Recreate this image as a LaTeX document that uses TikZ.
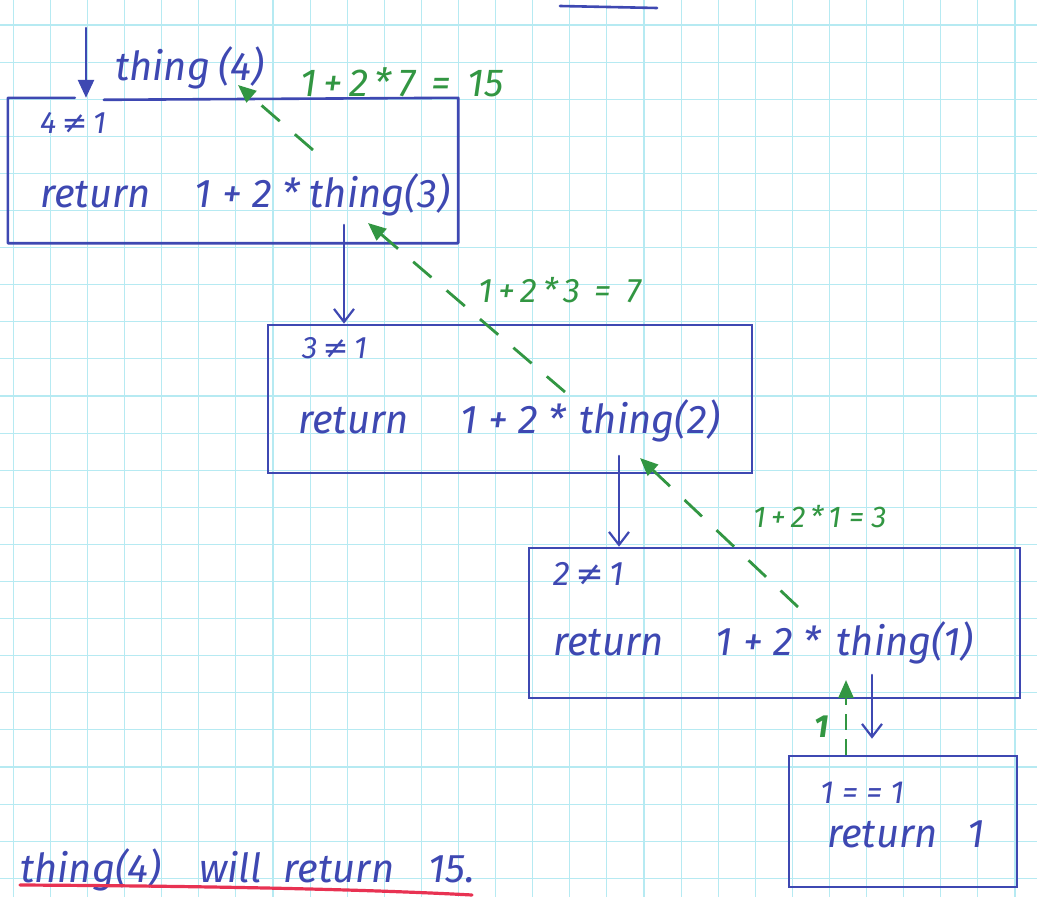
\documentclass[tikz,border=0pt]{standalone}
\usepackage{fontspec}
\setmainfont{Fira Sans}
\newfontfamily\symf{DejaVu Sans}
\usetikzlibrary{arrows.meta,calc}
\definecolor{ink}{RGB}{62,72,178}
\definecolor{gink}{RGB}{50,150,66}
\definecolor{rink}{RGB}{232,50,82}
\definecolor{gridc}{RGB}{182,234,242}
\newcommand{\neqsym}{{\symf ≠}}
\newcommand{\fs}[1]{\fontsize{#1}{#1}\selectfont}
\begin{document}
\begin{tikzpicture}[x=1pt,y=-1pt,
  inkline/.style={draw=ink,line width=2.6pt,line cap=round,line join=round},
  boxn/.style={draw=ink,line width=2.6pt,rectangle,inner sep=0pt},
  txt/.style={text=ink,font=\itshape\fs{40},anchor=base west,inner sep=0pt},
  gtxt/.style={text=gink,font=\itshape\fs{32},anchor=base west,inner sep=0pt},
  downar/.style={inkline,-{Straight Barb[length=13pt,width=20pt,line width=2.2pt]}},
  topar/.style={inkline,-{Triangle[length=18pt,width=16pt]}},
  gret/.style={draw=gink,line width=2.8pt,dash pattern=on 24pt off 20pt,-{Triangle[length=18pt,width=15pt]}},
]
\fill[white] (0,0) rectangle (1037,897);
\useasboundingbox (0,0) rectangle (1037,897);
% graph paper
\foreach \i in {0,...,27} \draw[gridc,line width=1.1pt] (13.3+37.1*\i,0) -- ++(0,897);
\foreach \j in {0,...,23} \draw[gridc,line width=1.1pt] (0,25+37.1*\j) -- ++(1037,0);
% fragment at top
\draw[inkline] (560,6) -- (657,8);
% boxes
\node[rectangle,inner sep=0pt,minimum width=450pt,minimum height=145pt] (b1) at (233,170.5) {};
\draw[inkline] ($(b1.north west)+(67,0)$) -- (b1.north west) -- (b1.south west) -- (b1.south east) -- (b1.north east) -- ($(b1.north west)+(96,2)$);
\node[boxn,minimum width=484pt,minimum height=148pt] (b2) at (510,399) {};
\node[boxn,minimum width=491pt,minimum height=150pt] (b3) at (774.5,623) {};
\node[boxn,minimum width=228pt,minimum height=131pt] (b4) at (903,821.5) {};
% texts
\node[txt] (t4) at (115,80) {thing\hspace{8pt}(4)};
\node[txt,font=\itshape\fs{31}] (c1) at (40,133) {4\,\neqsym\,1};
\node[txt] (r1) at (40,207) {return\hspace{44pt}1 + 2 * thing(3)};
\node[txt,font=\itshape\fs{31}] (c2) at (302,358) {3\,\neqsym\,1};
\node[txt] (r2) at (298,433) {return\hspace{52pt}1 + 2 *\hspace{4pt} thing(2)};
\node[txt,font=\itshape\fs{34}] (c3) at (553,585) {2\,\neqsym\,1};
\node[txt] (r3) at (553,655) {return\hspace{52pt}1 + 2 *\hspace{6pt} thing(1)};
\node[txt,font=\itshape\fs{32}] (c4) at (820,803) {1 = = 1};
\node[txt] (r4) at (827,847) {return\hspace{30pt}1};
\node[txt] (fin) at (20,882) {thing(4)\hspace{38pt}will\hspace{22pt}return\hspace{34pt}15.};
\node[gtxt,font=\itshape\fs{39}] (g15) at (300,96) {1\,+\,2\,*\,7\, = \,15};
\node[gtxt,font=\itshape\fs{34}] (g7) at (478,302) {1\,+\,2\,*\,3\, = \,7};
\node[gtxt,font=\itshape\fs{30}] (g3) at (753,527) {1\,+\,2\,*\,1 = 3};
\node[gtxt,font=\bfseries\itshape\fs{32}] (g1) at (814,737) {1};
% underline
\coordinate (u1) at (20,885);
\coordinate (u2) at (472,895);
\draw[rink,line width=3.2pt,line cap=round] (u1) .. controls (200,886) and (360,889) .. (u2);
% call arrows
\coordinate (s01) at (86,28);
\draw[topar] (s01) -- (s01 |- b1.north);
\coordinate (s12) at (344,225);
\draw[downar] (s12) -- (s12 |- b2.north);
\coordinate (s23) at (619,456);
\draw[downar] (s23) -- (s23 |- b3.north);
\coordinate (s34) at (872,675);
\draw[downar,shorten >=16pt] (s34) -- (s34 |- b4.north);
% return arrows
\coordinate (e43) at (846,680);
\draw[gret,dash pattern=on 16pt off 9pt] (e43 |- b4.north) -- (e43);
\coordinate (s32) at (798,607);
\coordinate (e32) at (640,458);
\draw[gret] (s32) -- (e32);
\coordinate (s21) at (565,392);
\coordinate (e21) at (368,223);
\draw[gret] (s21) -- (e21);
\coordinate (s10) at (313,150);
\coordinate (e10) at (238,85);
\draw[gret] (s10) -- (e10);
\end{tikzpicture}
\end{document}
